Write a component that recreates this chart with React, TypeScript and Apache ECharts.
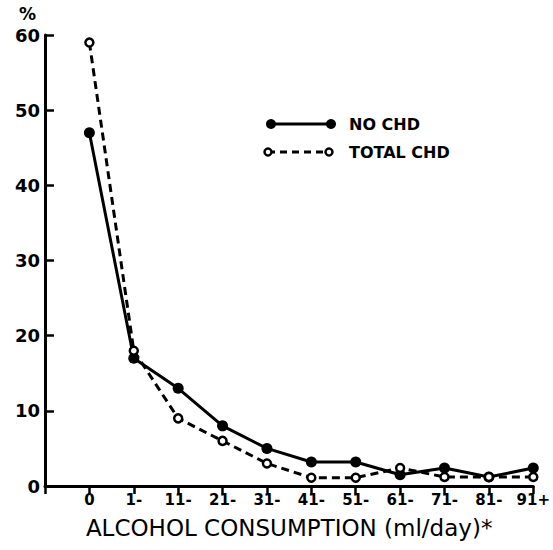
import React, { useEffect, useRef } from "react";
import * as echarts from "echarts";

const categories = ["0", "1-", "11-", "21-", "31-", "41-", "51-", "61-", "71-", "81-", "91+"];
const noChd = [47, 17, 13, 8, 5, 3.2, 3.2, 1.5, 2.4, 1.2, 2.4];
const totalChd = [59, 18, 9, 6, 3, 1.1, 1.1, 2.4, 1.2, 1.2, 1.2];
const yTicks = [0, 10, 20, 30, 40, 50, 60];

const FONT = "DejaVu Sans";

export default function App() {
  const ref = useRef<HTMLDivElement>(null);
  useEffect(() => {
    if (!ref.current) return;
    const chart = echarts.init(ref.current, null, { renderer: "svg" });
    const toPairs = (arr: number[]) => arr.map((v, i) => [i, v]);
    chart.setOption({
      animation: false,
      backgroundColor: "#ffffff",
      grid: { left: 45, right: 19, top: 35, bottom: 64, containLabel: false },
      xAxis: {
        type: "value",
        min: -1,
        max: 10,
        interval: 1,
        splitLine: { show: false },
        axisLine: { show: true, onZero: false, lineStyle: { color: "#000", width: 3 } },
        axisTick: { show: true, inside: false, length: 8, lineStyle: { color: "#000", width: 2.5 } },
        axisLabel: {
          margin: 6,
          color: "#000",
          fontFamily: FONT,
          fontWeight: "bold",
          fontSize: 15,
          formatter: (v: number) => (v >= 0 && v < categories.length ? categories[Math.round(v)] : ""),
        },
        name: "ALCOHOL CONSUMPTION (ml/day)*",
        nameLocation: "middle",
        nameGap: 30,
        nameTextStyle: { color: "#000", fontFamily: FONT, fontSize: 23, fontWeight: "normal" },
      },
      yAxis: {
        type: "value",
        min: yTicks[0],
        max: yTicks[yTicks.length - 1],
        interval: 10,
        splitLine: { show: false },
        axisLine: { show: true, onZero: false, lineStyle: { color: "#000", width: 3 } },
        axisTick: { show: true, inside: true, length: 9, lineStyle: { color: "#000", width: 2.5 } },
        axisLabel: {
          margin: 5,
          color: "#000",
          fontFamily: FONT,
          fontWeight: "bold",
          fontSize: 18,
        },
      },
      series: [
        {
          name: "NO CHD",
          type: "line",
          data: toPairs(noChd),
          symbol: "circle",
          symbolSize: 11,
          itemStyle: { color: "#000" },
          lineStyle: { color: "#000", width: 3 },
          z: 3,
        },
        {
          name: "TOTAL CHD",
          type: "line",
          data: toPairs(totalChd),
          symbol: "circle",
          symbolSize: 8,
          itemStyle: { color: "#fff", borderColor: "#000", borderWidth: 2.5 },
          lineStyle: { color: "#000", width: 3, type: [8, 5] },
          z: 4,
        },
      ],
      graphic: [
        { type: "text", left: 19, top: 5, style: { text: "%", fill: "#000", font: `bold 17px "${FONT}"` } },
        { type: "line", shape: { x1: 271, y1: 124, x2: 331, y2: 124 }, style: { stroke: "#000", lineWidth: 3 } },
        { type: "circle", shape: { cx: 271, cy: 124, r: 5 }, style: { fill: "#000" } },
        { type: "circle", shape: { cx: 331, cy: 124, r: 5 }, style: { fill: "#000" } },
        { type: "text", x: 349, y: 124, style: { text: "NO CHD", fill: "#000", font: `bold 16px "${FONT}"`, verticalAlign: "middle" } },
        { type: "line", shape: { x1: 268, y1: 152, x2: 329, y2: 152 }, style: { stroke: "#000", lineWidth: 3, lineDash: [7, 5] } },
        { type: "circle", shape: { cx: 268, cy: 152, r: 3.5 }, style: { fill: "#fff", stroke: "#000", lineWidth: 2.5 } },
        { type: "circle", shape: { cx: 329, cy: 152, r: 3.5 }, style: { fill: "#fff", stroke: "#000", lineWidth: 2.5 } },
        { type: "text", x: 349, y: 152, style: { text: "TOTAL CHD", fill: "#000", font: `bold 16px "${FONT}"`, verticalAlign: "middle" } },
      ],
    });
    return () => chart.dispose();
  }, []);
  return <div ref={ref} style={{ width: 553, height: 550, position: "absolute", left: 0, top: 0 }} />;
}
